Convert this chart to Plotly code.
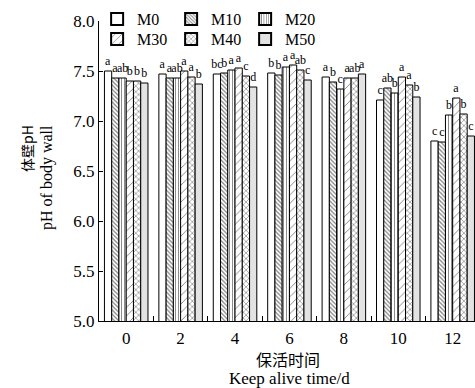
import plotly.graph_objects as go

days = ["0", "2", "4", "6", "8", "10", "12"]
series_names = ["M0", "M10", "M20", "M30", "M40", "M50"]

m0 = [7.50, 7.47, 7.47, 7.48, 7.44, 7.21, 6.80]
m10 = [7.43, 7.43, 7.48, 7.46, 7.39, 7.33, 6.79]
m20 = [7.43, 7.43, 7.51, 7.54, 7.32, 7.28, 7.06]
m30 = [7.40, 7.50, 7.53, 7.56, 7.43, 7.44, 7.23]
m40 = [7.40, 7.44, 7.45, 7.51, 7.43, 7.36, 7.07]
m50 = [7.38, 7.37, 7.34, 7.41, 7.47, 7.24, 6.85]

l0 = ["a", "a", "bc", "b", "a", "c", "c"]
l10 = ["a", "a", "b", "b", "b", "ab", "c"]
l20 = ["ab", "ab", "a", "a", "c", "b", "b"]
l30 = ["b", "a", "a", "a", "a", "a", "a"]
l40 = ["b", "a", "c", "ab", "ab", "a", "b"]
l50 = ["b", "b", "d", "c", "a", "b", "c"]

values = [m0, m10, m20, m30, m40, m50]
letters = [l0, l10, l20, l30, l40, l50]

styles = [
    dict(color="white", pattern=dict(shape="")),
    dict(color="white", pattern=dict(shape="\\", size=3, solidity=0.4, fgcolor="black", bgcolor="white")),
    dict(color="white", pattern=dict(shape="|", size=3, solidity=0.3, fgcolor="black", bgcolor="white")),
    dict(color="white", pattern=dict(shape="/", size=6, solidity=0.15, fgcolor="black", bgcolor="white")),
    dict(color="white", pattern=dict(shape="x", size=4, solidity=0.3, fgcolor="black", bgcolor="white")),
    dict(color="#e3e3e3", pattern=dict(shape="")),
]

serif = "Liberation Serif"
cjk = "Noto Sans CJK SC"

fig = go.Figure()
for i, (name, vals, labs, st) in enumerate(zip(series_names, values, letters, styles)):
    fig.add_trace(go.Bar(
        x=days, y=vals, name=name,
        text=labs, textposition="outside", constraintext="none",
        textfont=dict(family=serif, size=12, color="black"),
        marker=dict(color=st["color"], pattern=st["pattern"],
                    line=dict(color="black", width=1)),
        legend="legend" if i < 3 else "legend2",
        cliponaxis=False,
    ))

fig.update_layout(
    width=475, height=388,
    margin=dict(l=99, r=0, t=21, b=67, autoexpand=False),
    paper_bgcolor="white", plot_bgcolor="white",
    barmode="group", bargap=0.2, bargroupgap=0,
    font=dict(family=serif, size=17, color="black"),
    showlegend=True,
    legend=dict(orientation="h", x=-0.005, xanchor="left", y=(321 - 19) / 300, yanchor="middle",
                bgcolor="rgba(0,0,0,0)", font=dict(family=serif, size=16),
                entrywidth=29, itemsizing="constant"),
    legend2=dict(orientation="h", x=-0.005, xanchor="left", y=(321 - 39) / 300, yanchor="middle",
                 bgcolor="rgba(0,0,0,0)", font=dict(family=serif, size=16),
                 entrywidth=29, itemsizing="constant"),
    xaxis=dict(type="category", range=[-0.5, 6.41], showline=True, linecolor="black",
               linewidth=1, ticks="inside", ticklen=5, tickson="boundaries",
               tickcolor="black", showgrid=False, tickfont=dict(family=serif, size=17),
               ticklabelstandoff=2),
    yaxis=dict(range=[5, 8], dtick=0.5, tickformat=".1f", showline=True, linecolor="black",
               linewidth=1, ticks="inside", ticklen=4, tickcolor="black", showgrid=False,
               zeroline=False, tickfont=dict(family=serif, size=17)),
    annotations=[
        dict(text="体壁pH", xref="paper", yref="paper", x=(27 - 99) / 376, y=(321 - 149) / 300,
             xanchor="center", yanchor="middle", textangle=-90, showarrow=False,
             font=dict(family=cjk, size=14)),
        dict(text="pH of body wall", xref="paper", yref="paper", x=(47 - 99) / 376, y=(321 - 178) / 300,
             xanchor="center", yanchor="middle", textangle=-90, showarrow=False,
             font=dict(family=serif, size=16)),
        dict(text="保活时间", xref="paper", yref="paper", x=(288 - 99) / 376, y=(321 - 359) / 300,
             xanchor="center", yanchor="middle", showarrow=False,
             font=dict(family=cjk, size=16)),
        dict(text="Keep alive time/d", xref="paper", yref="paper", x=(289 - 99) / 376, y=(321 - 378) / 300,
             xanchor="center", yanchor="middle", showarrow=False,
             font=dict(family=serif, size=17)),
    ],
)

fig.write_html("out.html", config={"displayModeBar": False},
               post_script="document.body.style.margin='0';document.body.style.padding='0';")
